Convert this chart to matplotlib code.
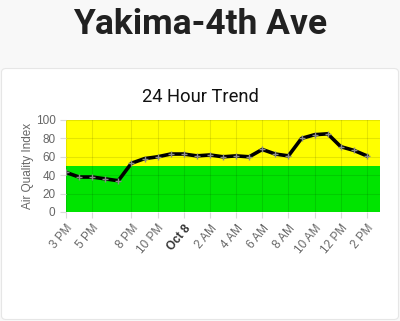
import matplotlib.pyplot as plt
from matplotlib.patches import FancyBboxPatch

# hours since 3 PM
hours = list(range(24))
aqi = [43, 38, 38, 36, 34, 53, 58, 60, 63, 63, 61, 62, 60, 61, 60, 68,
       63, 61, 80, 84, 85, 71, 67, 61]
tick_hours = [0, 2, 5, 7, 9, 11, 13, 15, 17, 19, 21, 23]
tick_labels = ['3 PM', '5 PM', '8 PM', '10 PM', 'Oct 8', '2 AM', '4 AM',
               '6 AM', '8 AM', '10 AM', '12 PM', '2 PM']
bands = [(0, 50, '#00e400'), (50, 100, '#ffff00')]

W, H = 400, 321
fig = plt.figure(figsize=(4, 3.21), dpi=100, facecolor='#f8f8f8')

# white card
card = FancyBboxPatch((1.5 / W, 1.5 / H), 397 / W, (H - 68 - 2) / H,
                      boxstyle='round,pad=0,rounding_size=0.012',
                      transform=fig.transFigure, facecolor='white',
                      edgecolor='#e6e6e6', linewidth=0.8, zorder=-1)
fig.patches.append(card)

fig.text(0.5, 1 - 24 / H, 'Yakima-4th Ave', ha='center', va='center',
         fontsize=25.5, fontweight='bold', family='Roboto', color='#212121')
fig.text(0.5, 1 - 97 / H, '24 Hour Trend', ha='center', va='center',
         fontsize=13.2, family='Roboto', color='#111111')

ax = fig.add_axes([66 / W, (H - 212) / H, 314 / W, 92 / H])
ax.set_zorder(2)
for lo, hi, c in bands:
    ax.axhspan(lo, hi, color=c, zorder=0, lw=0)
ax.plot(hours, aqi, color='black', lw=2.6, zorder=3,
        marker='+', markersize=4.5, markeredgecolor='#8a8a8a',
        markeredgewidth=1.0)

ax.set_xlim(0, 24)
ax.set_ylim(0, 100)
ax.set_yticks([0, 20, 40, 60, 80, 100])
ax.set_xticks(tick_hours)
ax.set_xticklabels(tick_labels, rotation=50, ha='right',
                   rotation_mode='anchor')
ax.grid(True, color='#000000', alpha=0.1, lw=0.8, zorder=1)
ax.set_axisbelow(False)
for s in ax.spines.values():
    s.set_visible(False)
ax.tick_params(axis='both', colors='#d9d9d9', labelcolor='#666666',
               labelsize=8.5, length=4, width=0.8)
for lab in ax.get_xticklabels() + ax.get_yticklabels():
    lab.set_family('Liberation Sans')
    if lab.get_text() == 'Oct 8':
        lab.set_fontweight('bold')
        lab.set_color('#333333')
ax.set_ylabel('Air Quality Index', fontsize=8.5, color='#666666',
              labelpad=1, family='Liberation Sans')

fig.savefig('out.png', dpi=100, facecolor=fig.get_facecolor())
